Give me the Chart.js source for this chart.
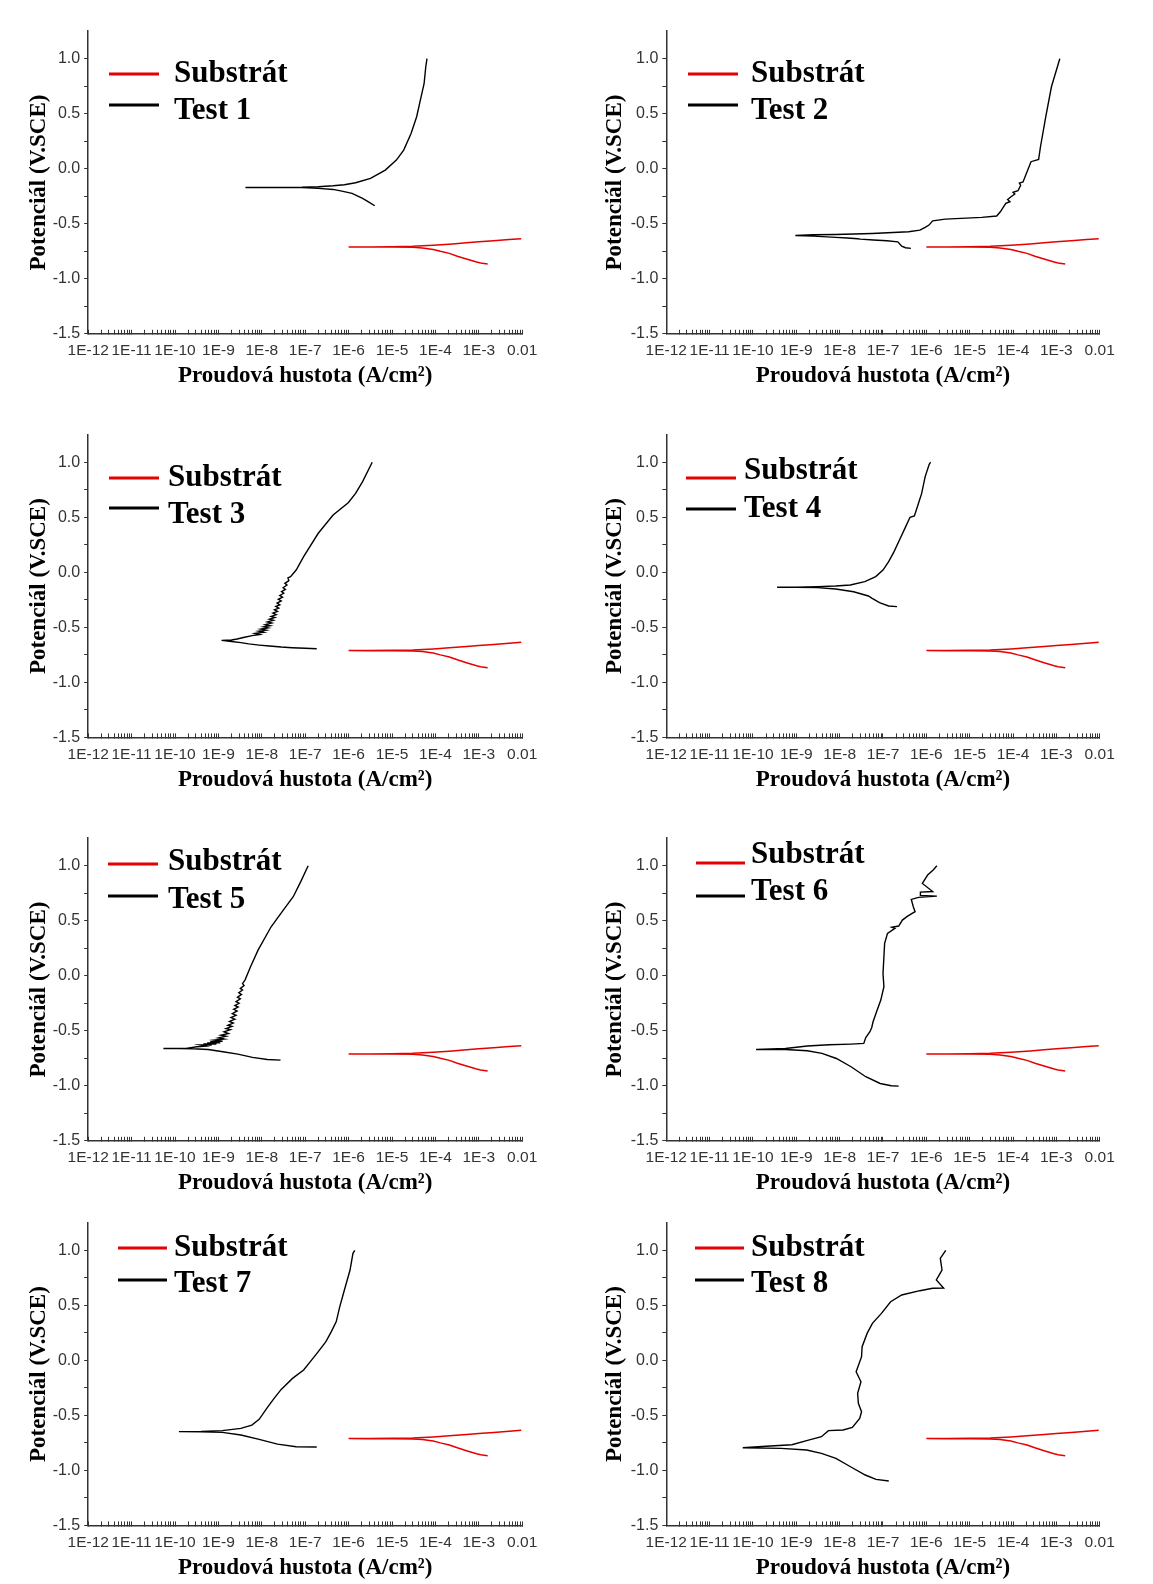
<!DOCTYPE html>
<html>
<head>
<meta charset="utf-8">
<title>Polarizační křivky</title>
<script src="https://cdn.jsdelivr.net/npm/chart.js@4.4.1/dist/chart.umd.min.js"></script>
<style>
  body { margin: 0; background: #fff; }
  #page { position: relative; width: 1153px; height: 1584px; background: #fff; }
  canvas { position: absolute; }
</style>
</head>
<body>
<div id="page"></div>
<script>
// axis labels
var xTickLabels = ['1E-12', '1E-11', '1E-10', '1E-9', '1E-8', '1E-7', '1E-6', '1E-5', '1E-4', '1E-3', '0.01'];
var yTicks = [-1.5, -1.25, -1.0, -0.75, -0.5, -0.25, 0.0, 0.25, 0.5, 0.75, 1.0];
var testLabels = ['Test 1', 'Test 2', 'Test 3', 'Test 4', 'Test 5', 'Test 6', 'Test 7', 'Test 8'];

// substrate (same curve in every panel), current density A/cm2 and potential V
var subI = [1.6e-3, 1.1e-3, 8.9e-4, 5.2e-4, 3.2e-4, 2.1e-4, 1.3e-4, 8.9e-5, 5.0e-5, 3.0e-5, 1.0e-5, 3.0e-6, 1.0e-6,
            3.0e-6, 1.0e-5, 3.0e-5, 8.9e-5, 2.5e-4, 5.2e-4, 1.0e-3, 2.2e-3, 5.0e-3, 9.5e-3];
var subE = [-0.866, -0.857, -0.848, -0.821, -0.795, -0.769, -0.750, -0.733, -0.720, -0.714, -0.712, -0.712, -0.711,
            -0.711, -0.709, -0.705, -0.696, -0.684, -0.673, -0.664, -0.655, -0.644, -0.636];

var t1I = [4.0e-6, 3.0e-6, 2.1e-6, 1.2e-6, 7.0e-7, 4.4e-7, 2.0e-7, 8.4e-8, 1.0e-8, 4.2e-9,
           1.0e-8, 8.4e-8, 2.0e-7, 4.4e-7, 8.0e-7, 1.45e-6, 3.2e-6, 7.0e-6, 1.26e-5, 1.86e-5, 2.75e-5, 3.7e-5, 4.5e-5, 5.5e-5, 6.0e-5, 6.4e-5];
var t1E = [-0.336, -0.305, -0.270, -0.224, -0.203, -0.188, -0.178, -0.172, -0.170, -0.170,
           -0.169, -0.168, -0.164, -0.155, -0.145, -0.127, -0.088, -0.012, 0.079, 0.170, 0.321, 0.473, 0.624, 0.776, 0.927, 1.0];

var t2I = [4.4e-7, 3.3e-7, 2.7e-7, 2.2e-7, 1.23e-7, 6.0e-8, 3.0e-8, 2.6e-8, 1.5e-8, 8.1e-9, 2.5e-9, 9.5e-10,
           2.5e-9, 8.1e-9, 5.6e-8, 3.9e-7, 7.1e-7, 9.4e-7, 1.15e-6, 1.4e-6, 2.75e-6, 1.9e-5, 4.2e-5, 5.1e-5, 6.8e-5,
           8.5e-5, 7.5e-5, 9.0e-5, 1.1e-4, 1.0e-4, 1.3e-4, 1.5e-4, 1.4e-4, 1.7e-4, 2.0e-4, 2.6e-4, 3.9e-4, 4.3e-4, 5.7e-4, 7.7e-4, 1.2e-3];
var t2E = [-0.724, -0.718, -0.703, -0.664, -0.655, -0.648, -0.640, -0.636, -0.630, -0.624, -0.612, -0.606,
           -0.600, -0.597, -0.588, -0.573, -0.558, -0.533, -0.512, -0.473, -0.458, -0.442, -0.430, -0.391, -0.315,
           -0.300, -0.280, -0.255, -0.230, -0.215, -0.200, -0.150, -0.130, -0.120, -0.050, 0.064, 0.085, 0.200, 0.473, 0.745, 1.0];

var t3I = [1.84e-7, 1.0e-7, 5.0e-8, 2.8e-8, 1.5e-8, 8.7e-9, 5.0e-9, 3.3e-9, 2.0e-9, 1.18e-9,
           2.0e-9, 2.7e-9, 4.0e-9, 6.0e-9, 9.0e-9, 7.0e-9, 1.1e-8, 8.5e-9, 1.25e-8, 9.5e-9, 1.4e-8, 1.1e-8, 1.55e-8,
           1.2e-8, 1.7e-8, 1.35e-8, 1.85e-8, 1.5e-8, 2.0e-8, 1.65e-8, 2.15e-8, 1.8e-8, 2.3e-8, 1.95e-8, 2.45e-8,
           2.1e-8, 2.6e-8, 2.25e-8, 2.8e-8, 2.4e-8, 3.0e-8, 2.6e-8, 3.2e-8, 2.85e-8, 3.5e-8, 3.1e-8, 3.8e-8, 3.4e-8,
           4.2e-8, 4.0e-8, 4.6e-8, 6.2e-8, 9.2e-8, 2.0e-7, 4.4e-7, 9.8e-7, 1.45e-6, 2.1e-6, 3.5e-6];
var t3E = [-0.694, -0.690, -0.685, -0.679, -0.670, -0.661, -0.650, -0.639, -0.628, -0.618,
           -0.615, -0.606, -0.590, -0.575, -0.565, -0.555, -0.545, -0.535, -0.525, -0.515, -0.505, -0.495, -0.485,
           -0.475, -0.460, -0.450, -0.435, -0.425, -0.410, -0.400, -0.385, -0.370, -0.355, -0.340, -0.325,
           -0.310, -0.295, -0.280, -0.260, -0.245, -0.225, -0.210, -0.190, -0.175, -0.155, -0.140, -0.115, -0.100,
           -0.075, -0.050, -0.039, 0.021, 0.142, 0.355, 0.521, 0.633, 0.718, 0.824, 1.0];

var t4I = [2.1e-7, 1.35e-7, 8.3e-8, 5.5e-8, 4.6e-8, 2.1e-8, 8.1e-9, 3.05e-9, 1.0e-9, 3.6e-10,
           1.0e-9, 3.05e-9, 8.1e-9, 1.76e-8, 3.8e-8, 6.8e-8, 1.0e-7, 1.35e-7, 1.8e-7, 2.4e-7, 3.2e-7, 4.2e-7, 5.3e-7,
           6.4e-7, 7.8e-7, 9.4e-7, 1.15e-6, 1.2e-6, 1.26e-6];
var t4E = [-0.312, -0.306, -0.276, -0.235, -0.215, -0.176, -0.152, -0.139, -0.137, -0.136,
           -0.134, -0.130, -0.124, -0.115, -0.085, -0.039, 0.021, 0.097, 0.188, 0.294, 0.400, 0.500, 0.512,
           0.612, 0.718, 0.870, 0.976, 0.990, 1.0];

var t5I = [2.7e-8, 1.34e-8, 6.1e-9, 2.8e-9, 1.27e-9, 5.8e-10, 2.6e-10, 1.2e-10, 5.4e-11,
           1.2e-10, 1.8e-10, 3.2e-10, 5.0e-10, 3.8e-10, 7.0e-10, 4.5e-10, 9.0e-10, 5.5e-10, 1.1e-9, 6.5e-10, 1.25e-9,
           8.0e-10, 1.35e-9, 1.0e-9, 1.5e-9, 1.15e-9, 1.7e-9, 1.35e-9, 1.9e-9, 1.5e-9, 2.05e-9, 1.65e-9, 2.2e-9,
           1.8e-9, 2.4e-9, 1.95e-9, 2.55e-9, 2.1e-9, 2.7e-9, 2.25e-9, 2.85e-9, 2.4e-9, 3.0e-9, 2.55e-9, 3.2e-9,
           2.75e-9, 3.4e-9, 2.95e-9, 3.6e-9, 3.2e-9, 3.9e-9, 3.6e-9, 4.1e-9, 5.5e-9, 8.2e-9, 1.64e-8, 2.95e-8,
           5.3e-8, 7.9e-8, 1.17e-7];
var t5E = [-0.767, -0.761, -0.742, -0.712, -0.691, -0.670, -0.663, -0.661, -0.661,
           -0.661, -0.660, -0.645, -0.640, -0.630, -0.630, -0.620, -0.620, -0.610, -0.610, -0.600, -0.595,
           -0.585, -0.575, -0.565, -0.550, -0.540, -0.525, -0.510, -0.490, -0.480, -0.460, -0.450, -0.430,
           -0.415, -0.395, -0.380, -0.360, -0.345, -0.320, -0.305, -0.285, -0.270, -0.250, -0.235, -0.210,
           -0.195, -0.170, -0.155, -0.130, -0.115, -0.090, -0.070, -0.039, 0.082, 0.233, 0.445, 0.582,
           0.718, 0.855, 1.0];

var t6I = [2.3e-7, 1.55e-7, 8.6e-8, 4.0e-8, 1.83e-8, 8.4e-9, 3.9e-9, 1.79e-9, 5.6e-10, 1.18e-10,
           5.6e-10, 1.79e-9, 5.7e-9, 1.83e-8, 3.6e-8, 4.0e-8, 5.0e-8, 5.5e-8, 5.9e-8, 7.1e-8, 8.9e-8, 1.05e-7, 1.0e-7,
           1.05e-7, 1.09e-7, 1.27e-7, 1.88e-7, 1.6e-7, 2.3e-7, 2.8e-7, 3.7e-7, 5.5e-7, 5.0e-7, 4.5e-7, 6.6e-7,
           1.75e-6, 7.3e-7, 7.3e-7, 1.4e-6, 8.1e-7, 1.07e-6, 1.44e-6, 1.75e-6];
var t6E = [-1.003, -1.000, -0.979, -0.918, -0.827, -0.752, -0.706, -0.682, -0.670, -0.670,
           -0.661, -0.639, -0.627, -0.621, -0.615, -0.561, -0.509, -0.470, -0.418, -0.327, -0.221, -0.100, 0.021,
           0.173, 0.294, 0.385, 0.430, 0.440, 0.452, 0.506, 0.542, 0.582, 0.627, 0.694, 0.712,
           0.724, 0.730, 0.760, 0.765, 0.839, 0.915, 0.961, 1.0];

var t7I = [1.84e-7, 6.2e-8, 2.3e-8, 8.7e-9, 3.3e-9, 1.23e-9, 4.0e-10, 1.23e-10,
           4.0e-10, 1.23e-9, 3.3e-9, 5.9e-9, 8.7e-9, 1.3e-8, 1.92e-8, 2.8e-8, 5.1e-8, 9.2e-8, 1.37e-7, 2.0e-7, 3.0e-7,
           4.0e-7, 5.2e-7, 6.2e-7, 8.0e-7, 1.08e-6, 1.26e-6, 1.39e-6];
var t7E = [-0.788, -0.785, -0.761, -0.718, -0.679, -0.655, -0.650, -0.648,
           -0.647, -0.639, -0.618, -0.588, -0.536, -0.436, -0.345, -0.264, -0.164, -0.088, -0.003, 0.079, 0.170,
           0.261, 0.352, 0.482, 0.639, 0.821, 0.973, 1.0];

var t8I = [1.36e-7, 6.9e-8, 3.9e-8, 1.78e-8, 8.2e-9, 3.8e-9, 1.73e-9, 4.5e-10, 5.8e-11,
           2.5e-10, 7.9e-10, 1.73e-9, 3.8e-9, 5.5e-9, 1.2e-8, 1.96e-8, 2.9e-8, 3.2e-8, 2.7e-8, 2.6e-8, 3.1e-8, 2.4e-8,
           3.2e-8, 3.3e-8, 4.3e-8, 5.7e-8, 9.2e-8, 1.5e-7, 2.7e-7, 7.1e-7, 1.4e-6, 2.5e-6, 1.7e-6, 2.3e-6, 2.1e-6, 2.8e-6];
var t8E = [-1.097, -1.082, -1.042, -0.967, -0.891, -0.845, -0.815, -0.800, -0.794,
           -0.779, -0.767, -0.730, -0.694, -0.639, -0.633, -0.609, -0.527, -0.467, -0.391, -0.300, -0.194, -0.103,
           0.033, 0.124, 0.245, 0.336, 0.427, 0.533, 0.594, 0.633, 0.655, 0.657, 0.730, 0.821, 0.927, 1.0];

var testI = [t1I, t2I, t3I, t4I, t5I, t6I, t7I, t8I];
var testE = [t1E, t2E, t3E, t4E, t5E, t6E, t7E, t8E];

// panel placement (canvas left/top, legend positions inside the canvas)
var colLeft = [0, 576], colWidth = [576, 577], colAxisW = [88.2, 90.3], colPadR = [53.8, 53.3];
var rowTop = [0, 404, 807, 1192], rowPadTop = [31.2, 30.8, 31.2, 30.8];
var CANVAS_H = 390, PLOT_H = 302.6;
var legendPos = [
  {x0: 109, x1: 159, ly: [74, 105], tx: 174, ty: [82, 119]},
  {x0: 112, x1: 162, ly: [74, 105], tx: 175, ty: [82, 119]},
  {x0: 109, x1: 159, ly: [74, 104], tx: 168, ty: [82, 119]},
  {x0: 110, x1: 160, ly: [74, 105], tx: 168, ty: [75, 113]},
  {x0: 108, x1: 158, ly: [57, 89], tx: 168, ty: [63, 101]},
  {x0: 120, x1: 169, ly: [56, 89], tx: 175, ty: [56, 93]},
  {x0: 118, x1: 167, ly: [56, 88], tx: 174, ty: [64, 100]},
  {x0: 119, x1: 168, ly: [56, 88], tx: 175, ty: [64, 100]}
];

function toPoints(xs, ys) {
  return xs.map(function (x, i) { return {x: x, y: ys[i]}; });
}

function legendPlugin(pos) {
  return {
    id: 'panelLegend',
    afterDraw: function (chart) {
      var ctx = chart.ctx;
      ctx.save();
      chart.data.datasets.forEach(function (ds, i) {
        ctx.strokeStyle = ds.borderColor;
        ctx.lineWidth = 3;
        ctx.beginPath();
        ctx.moveTo(pos.x0, pos.ly[i]);
        ctx.lineTo(pos.x1, pos.ly[i]);
        ctx.stroke();
        ctx.fillStyle = '#000';
        ctx.font = 'bold 31px "Liberation Serif"';
        ctx.textBaseline = 'alphabetic';
        ctx.textAlign = 'left';
        ctx.fillText(ds.label, pos.tx, pos.ty[i]);
      });
      ctx.restore();
    }
  };
}

var page = document.getElementById('page');
var axisColor = '#333';

for (var k = 0; k < 8; k++) {
  (function (k) {
    var col = k % 2, row = Math.floor(k / 2);
    var cv = document.createElement('canvas');
    cv.width = colWidth[col];
    cv.height = CANVAS_H;
    cv.style.left = colLeft[col] + 'px';
    cv.style.top = rowTop[row] + 'px';
    cv.style.width = colWidth[col] + 'px';
    cv.style.height = CANVAS_H + 'px';
    page.appendChild(cv);

    var padTop = rowPadTop[row];
    var xAxisH = CANVAS_H - padTop - PLOT_H;

    new Chart(cv, {
      type: 'scatter',
      data: {
        datasets: [
          {label: 'Substrát', data: toPoints(subI, subE), borderColor: '#e60000', borderWidth: 1.5,
           showLine: true, pointRadius: 0, fill: false},
          {label: testLabels[k], data: toPoints(testI[k], testE[k]), borderColor: '#000', borderWidth: 1.4,
           showLine: true, pointRadius: 0, fill: false}
        ]
      },
      options: {
        responsive: false,
        animation: false,
        devicePixelRatio: 1,
        layout: {padding: {left: 0, right: colPadR[col], top: padTop, bottom: 0}},
        plugins: {legend: {display: false}, tooltip: {enabled: false}},
        scales: {
          x: {
            type: 'logarithmic',
            min: 1e-12,
            max: 1e-2,
            afterBuildTicks: function (s) {
              var t = [];
              for (var e = -12; e < -2; e++) {
                for (var m = 1; m < 10; m++) t.push({value: m * Math.pow(10, e)});
              }
              t.push({value: 1e-2});
              s.ticks = t;
            },
            afterFit: function (s) { s.height = xAxisH; },
            ticks: {
              autoSkip: false, maxRotation: 0, minRotation: 0, padding: 12,
              color: axisColor,
              font: {family: 'Liberation Sans', size: 15.5},
              callback: function (v) {
                var e = Math.log10(v), r = Math.round(e);
                return Math.abs(e - r) < 1e-6 ? xTickLabels[r + 12] : '';
              }
            },
            grid: {drawOnChartArea: false, tickLength: -4, tickColor: axisColor, tickWidth: 1},
            border: {display: true, color: axisColor, width: 1.5},
            title: {
              display: true, text: 'Proudová hustota (A/cm²)', color: '#000',
              font: {family: 'Liberation Serif', size: 23, weight: 'bold', lineHeight: 1},
              padding: {top: 0, bottom: 2}
            }
          },
          y: {
            type: 'linear',
            min: -1.5,
            max: 1.25,
            afterBuildTicks: function (s) {
              s.ticks = yTicks.map(function (v) { return {value: v}; });
            },
            afterFit: function (s) { s.width = colAxisW[col]; },
            ticks: {
              autoSkip: false, padding: 4, color: axisColor,
              font: {family: 'Liberation Sans', size: 16},
              callback: function (v) {
                return Math.abs(v * 2 - Math.round(v * 2)) < 1e-9 ? v.toFixed(1) : '';
              }
            },
            grid: {drawOnChartArea: false, tickLength: 4, tickColor: axisColor, tickWidth: 1},
            border: {display: true, color: axisColor, width: 1.5},
            title: {
              display: true, text: 'Potenciál (V.SCE)', color: '#000',
              font: {family: 'Liberation Serif', size: 23, weight: 'bold', lineHeight: 1},
              padding: {top: 28, bottom: 0}
            }
          }
        }
      },
      plugins: [legendPlugin(legendPos[k])]
    });
  })(k);
}
</script>
</body>
</html>
